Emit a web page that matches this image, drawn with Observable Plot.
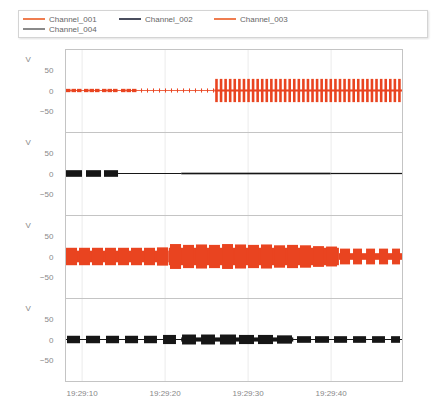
<!DOCTYPE html>
<html><head><meta charset="utf-8">
<script src="https://cdn.jsdelivr.net/npm/d3@7"></script>
<script src="https://cdn.jsdelivr.net/npm/@observablehq/plot@0.6"></script>
<style>
body{margin:0;background:#fff;font-family:"Liberation Sans",Arial,sans-serif;}
#legend{position:absolute;left:18px;top:10px;width:408px;height:26px;border:1px solid #d4d4d4;box-shadow:1px 1px 2px rgba(0,0,0,0.12);font-size:8px;color:#666;}
.item{position:absolute;display:flex;align-items:center;height:10px;}
.sw{display:inline-block;width:22px;height:2px;margin-right:4px;}
#chart{position:absolute;left:0;top:40px;}
</style></head><body>
<div id="legend"></div><div id="chart"></div>
<script>
// ---- data ----
const channels = ["Channel_001", "Channel_002", "Channel_003", "Channel_004"];
const legendColors = ["#ef7d50", "#4a4e5e", "#ef7d50", "#8a8a8a"];
const traceColors = ["#e94420", "#161616", "#e94420", "#161616"];
const tickTimes = [10, 20, 30, 40];
const tickLabels = ["19:29:10", "19:29:20", "19:29:30", "19:29:40"];
const yTicks = [-50, 0, 50];

// envelope segments: [start s, end s, amplitude V]
const ch1Segments = [
  [8.0, 26.0, 1.0], [26.0, 48.6, 2.5],
  [8.12, 8.66, 4], [8.78, 9.33, 4], [9.45, 9.99, 4],
  [10.29, 10.83, 4], [10.95, 11.49, 4], [11.61, 12.16, 4],
  [12.46, 13.0, 4], [13.12, 13.66, 4], [13.78, 14.33, 4],
  [14.75, 15.29, 4], [15.41, 15.95, 4], [16.07, 16.61, 4]
];
const ch1SpikeTimes = [17.16, 17.88, 18.60, 19.33, 20.05, 20.77, 21.49, 22.22, 22.94, 23.66, 24.39, 25.11, 25.83];
const ch1SpikeAmp = 5;
const ch1BurstTimes = [26.19, 26.74, 27.29, 27.84, 28.39, 28.95, 29.50, 30.05, 30.60, 31.15, 31.70, 32.25, 32.80, 33.35,
  33.90, 34.46, 35.01, 35.56, 36.11, 36.66, 37.21, 37.76, 38.31, 38.86, 39.41, 39.96, 40.52, 41.07, 41.62, 42.17,
  42.72, 43.27, 43.82, 44.37, 44.92, 45.47, 46.03, 46.58, 47.13, 47.68, 48.23];
const ch1BurstAmp = 28;

const ch2Segments = [
  [8.12, 10.05, 8], [10.53, 12.34, 8], [12.70, 14.39, 8],
  [14.39, 22.0, 1.2], [22.0, 40.0, 2.0], [40.0, 48.6, 1.5]
];

const ch3Segments = [
  [8.0, 20.5, 14], [20.5, 41.0, 21], [41.0, 48.6, 8],
  [8.12, 9.45, 21], [9.69, 11.01, 21], [11.25, 12.58, 21], [12.82, 14.14, 21],
  [14.39, 15.71, 21], [15.95, 17.28, 21], [17.52, 18.84, 21], [19.08, 20.41, 22],
  [20.65, 21.98, 30], [22.22, 23.54, 28], [23.78, 25.11, 29], [25.35, 26.67, 28],
  [26.92, 28.24, 30], [28.48, 29.81, 29], [30.05, 31.37, 28], [31.61, 32.94, 29],
  [33.18, 34.51, 27], [34.75, 36.07, 28], [36.31, 37.64, 27], [37.88, 39.20, 25],
  [39.45, 40.77, 24],
  [41.13, 42.34, 19], [42.70, 43.78, 19], [44.27, 45.35, 19], [45.83, 46.92, 19], [47.40, 48.36, 19]
];

const ch4Segments = [
  [8.0, 48.6, 1.2], [22.0, 35.5, 5],
  [8.24, 9.81, 9], [10.53, 12.22, 9], [12.94, 14.51, 9], [15.23, 16.80, 9], [17.52, 19.08, 9],
  [19.81, 21.37, 11], [22.10, 23.78, 12], [24.39, 26.07, 12], [26.67, 28.60, 12], [28.96, 30.77, 11],
  [31.25, 33.06, 11], [33.54, 35.35, 10], [35.95, 37.64, 8], [38.12, 39.81, 8], [40.41, 41.98, 8],
  [42.70, 44.27, 8], [44.99, 46.55, 8], [47.28, 48.36, 8]
];

// ---- build tables ----
const segRows = [];
[ch1Segments, ch2Segments, ch3Segments, ch4Segments].forEach((segs, i) => {
  for (const [t0, t1, amp] of segs) segRows.push({ch: channels[i], t0, t1, amp, color: traceColors[i]});
});
const spikeRows = ch1SpikeTimes.map(t => ({ch: channels[0], t, amp: ch1SpikeAmp, w: 1}))
  .concat(ch1BurstTimes.map(t => ({ch: channels[0], t, amp: ch1BurstAmp, w: 2.6})));

// ---- legend ----
const legend = document.getElementById("legend");
const legendPos = [[4, 3], [100, 3], [195, 3], [4, 13]];
channels.forEach((c, i) => {
  const it = document.createElement("div");
  it.className = "item";
  it.style.left = legendPos[i][0] + "px";
  it.style.top = legendPos[i][1] + "px";
  const sw = document.createElement("span");
  sw.className = "sw";
  sw.style.background = legendColors[i];
  const tx = document.createElement("span");
  tx.textContent = c;
  it.appendChild(sw); it.appendChild(tx);
  legend.appendChild(it);
});

// ---- chart ----
const chart = Plot.plot({
  width: 433,
  height: 363,
  marginLeft: 65,
  marginRight: 31,
  marginTop: 8,
  marginBottom: 21,
  style: {fontFamily: "Liberation Sans, Arial, sans-serif", background: "white"},
  x: {domain: [8, 48.6]},
  y: {domain: [-100, 100]},
  fy: {domain: channels, axis: null, padding: 0},
  color: {type: "identity"},
  marks: [
    Plot.ruleX(tickTimes, {stroke: "#ebebeb"}),
    Plot.rect(segRows, {x1: "t0", x2: "t1", y1: d => -d.amp, y2: d => d.amp, fy: "ch", fill: "color"}),
    Plot.ruleX(spikeRows, {x: "t", y1: d => -d.amp, y2: d => d.amp, fy: "ch", stroke: "#e94420", strokeWidth: "w"}),
    Plot.frame({stroke: "#c4c4c4"}),
    Plot.axisY(yTicks, {tickSize: 0, tickPadding: 12, fontSize: 8, color: "#888", label: null}),
    Plot.axisX(tickTimes, {tickSize: 0, tickPadding: 9, fontSize: 8, color: "#888", label: null,
      tickFormat: d => tickLabels[tickTimes.indexOf(d)]}),
    Plot.text(channels, {fy: d => d, text: () => "V", frameAnchor: "top-left", dx: -40, dy: 7, fill: "#888", fontSize: 8})
  ]
});
document.getElementById("chart").appendChild(chart);
</script></body></html>
